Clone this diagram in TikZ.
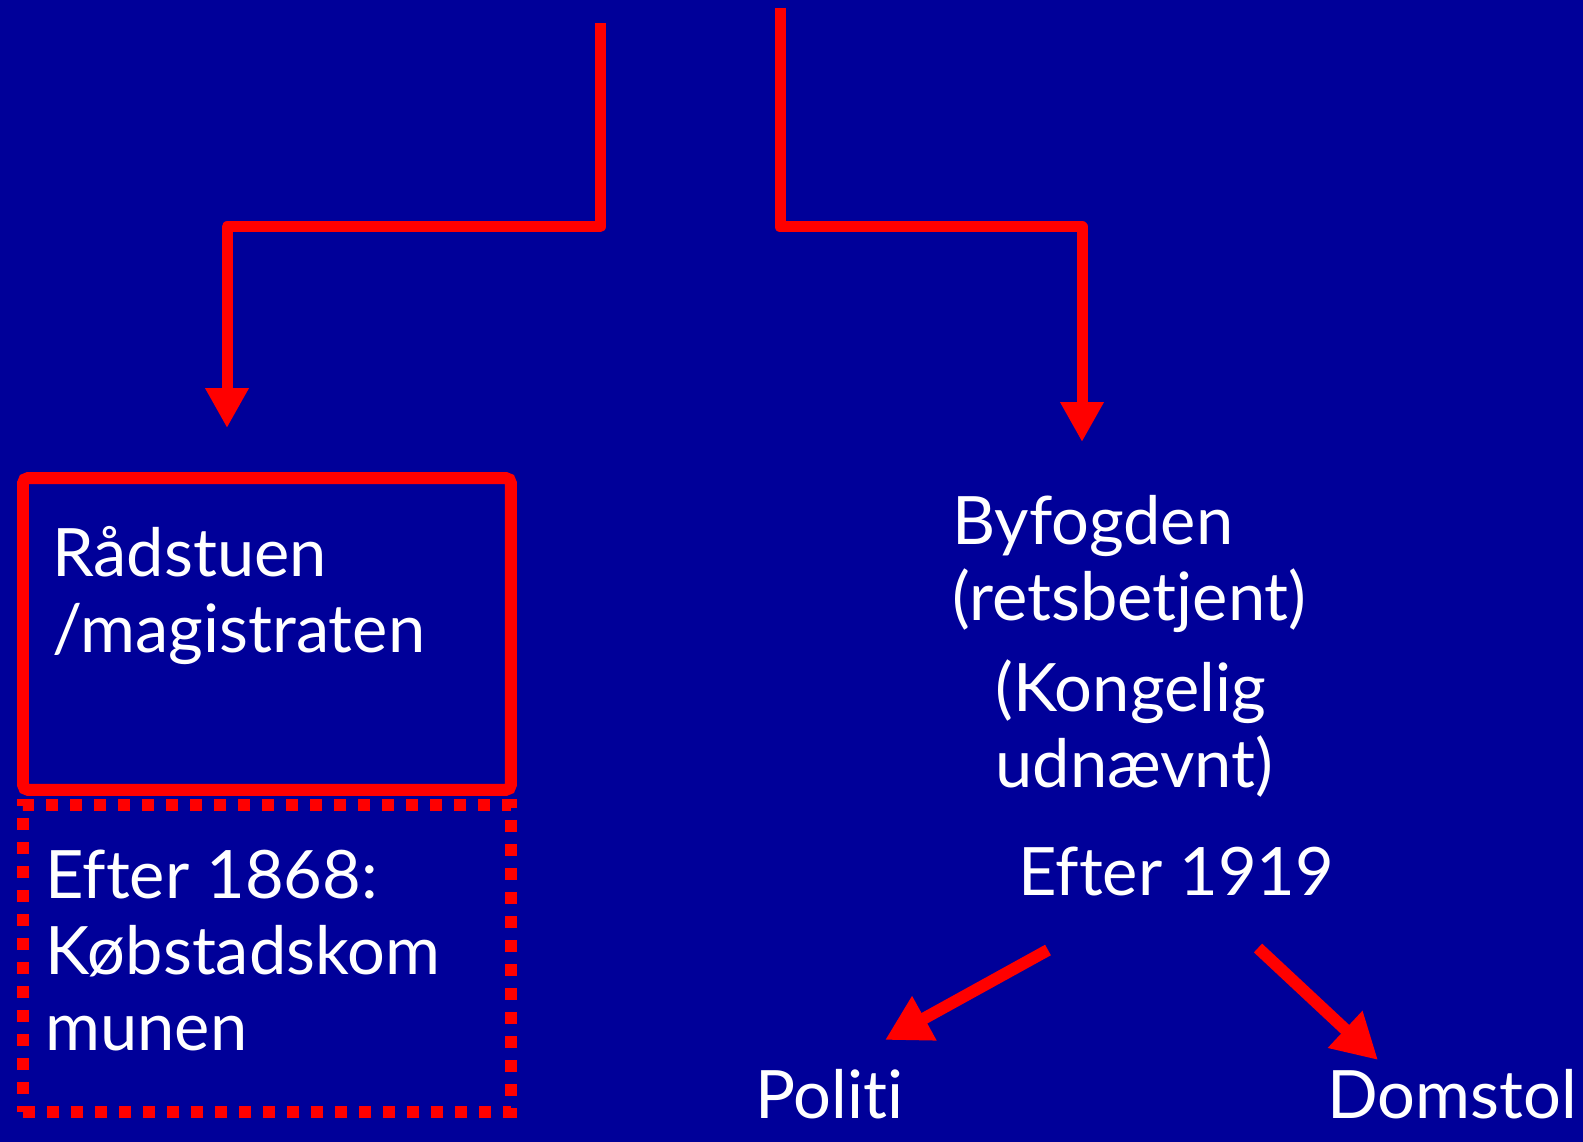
\documentclass[tikz,border=0pt]{standalone}
\usepackage{fontspec}
\setmainfont{Lato}[Ligatures=NoCommon]
\usetikzlibrary{arrows.meta}
\definecolor{slideblue}{RGB}{0,0,153}
\definecolor{slidered}{RGB}{255,0,0}
\begin{document}
\begin{tikzpicture}[x=0.02cm,y=-0.02cm,
  flow/.style={draw=slidered,line width=0.22cm,line join=round,-{Triangle[length=0.8cm,width=0.82cm]}},
  slant/.style={draw=slidered,line width=0.24cm,-{Triangle[length=0.9cm,width=0.95cm]}},
  label/.style={text=white,font=\fontsize{38}{43}\selectfont,inner sep=0pt,align=left,anchor=base west},
  frame/.style={draw=slidered,line width=0.24cm,inner sep=0pt,outer sep=0pt,anchor=north west,
    minimum width=9.76cm}]
  % background
  \fill[slideblue] (0,0) rectangle (1583,1142);
  \useasboundingbox (0,0) rectangle (1583,1142);

  % boxes
  \node[frame,minimum height=6.24cm,rounded corners=3pt] (raadbox) at (23,478) {};
  \node[frame,minimum height=6.14cm,dash pattern=on 0.24cm off 0.24cm] (kombox) at (23,805) {};

  % texts (anchor is the baseline of the last line)
  \node[label] (raad) at (52,652) {Rådstuen\\/magistraten};
  \node[label] (kom) at (45,1050) {Efter 1868:\\Købstadskom\\munen};
  \node[label] (byf) at (952,620) {Byfogden\\(retsbetjent)};
  \node[label] (kong) at (995,787) {(Kongelig\\udnævnt)};
  \node[label] (efter) at (1018,895) {Efter 1919};
  \node[label] (politi) at (755,1118) {Politi};
  \node[label] (domstol) at (1327,1118) {Domstol};

  % connectors
  \coordinate (lsrc) at (600,23);
  \coordinate (lbend) at (600,227);
  \coordinate (ltip) at (227,428);
  \coordinate (rsrc) at (780,8);
  \coordinate (rbend) at (780,227);
  \coordinate (rtip) at (1082,442);
  \draw[flow] (lsrc) -- (lbend) -| (ltip);
  \draw[flow] (rsrc) -- (rbend) -| (rtip);

  \coordinate (pstart) at (1048,950);
  \coordinate (ptip) at (885,1040);
  \coordinate (dstart) at (1258,948);
  \coordinate (dtip) at (1378,1060);
  \draw[slant] (pstart) -- (ptip);
  \draw[slant] (dstart) -- (dtip);
\end{tikzpicture}
\end{document}
